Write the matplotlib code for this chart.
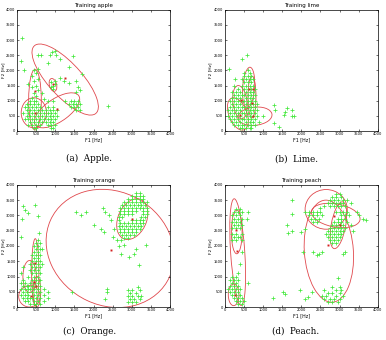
import matplotlib.pyplot as plt
from matplotlib.patches import Ellipse

# dense blobs are given as rows: (F2, [F1, F1, ...]); loose points as (F1, F2)
apple_rows = [
    (1000, [350, 450, 500, 800, 950, 1400, 1500, 1600]),
    (900, [250, 350, 450, 550, 1350, 1450, 1550, 1650]),
    (800, [200, 300, 400, 500, 600, 800, 950, 1400, 1500, 1600]),
    (700, [250, 350, 450, 550, 650, 750, 850, 950, 1050, 1550, 1650]),
    (600, [150, 300, 400, 500, 600, 700, 800, 900, 1000]),
    (500, [250, 350, 450, 550, 650, 750, 850, 950, 1050]),
    (400, [200, 300, 400, 500, 600, 700, 800, 900, 1000]),
    (300, [350, 450, 550, 650, 750, 850, 950]),
    (200, [300, 400, 500, 600, 800, 900, 1000]),
    (100, [450, 500, 900, 950]),
]
apple_loose = [(130, 3070), (115, 2320), (180, 2020), (290, 1550), (400, 1100), (500, 1150),
               (450, 1250), (550, 1350), (400, 1450), (500, 1500), (450, 1650), (550, 1700),
               (400, 1800), (500, 1900), (550, 2050), (450, 2000), (900, 1450), (950, 1500),
               (900, 1600), (980, 1650), (950, 1400), (1000, 1550), (550, 2520), (630, 2520),
               (850, 2520), (910, 2610), (980, 2630), (1010, 2520), (810, 2250), (1110, 2360),
               (1460, 2470), (1370, 2100), (1690, 1880), (1550, 1660), (1600, 1450), (1650, 1350),
               (1550, 1300), (1370, 1590), (1240, 1640), (1110, 1750), (2370, 820), (1250, 1000),
               (700, 1050), (650, 1250)]
apple_means = [(1242, 1752), (478, 1312), (937, 1554), (1041, 737), (460, 595)]
# (F1, F2, width, height, angle)
apple_ellipses = [(1258, 1697, 950, 2760, 34), (470, 1030, 330, 2000, 0),
                  (940, 1520, 190, 430, 10), (440, 600, 660, 990, 0),
                  (1046, 680, 1500, 700, 44)]

lime_rows = [
    (2000, [600]), (1900, [500, 650]), (1800, [500, 600, 700]),
    (1700, [450, 550, 650, 750]), (1600, [500, 600, 700]),
    (1500, [250, 450, 550, 650, 750]), (1400, [350, 500, 600, 700, 800]),
    (1300, [200, 300, 400, 550, 650, 750]), (1200, [250, 350, 450, 500, 600, 700, 800]),
    (1100, [200, 300, 400, 550, 650, 750]), (1000, [150, 250, 350, 450, 500, 600, 700, 800]),
    (900, [200, 300, 400, 550, 650, 750, 850]), (800, [150, 250, 350, 450, 500, 600, 700, 800]),
    (700, [100, 200, 300, 400, 550, 650, 750, 850]), (600, [150, 250, 350, 450, 500, 600, 700, 800]),
    (500, [100, 200, 300, 400, 550, 650, 750, 850]), (400, [150, 250, 350, 450, 500, 600, 700, 800]),
    (300, [200, 300, 400, 550, 650, 750]), (200, [250, 350, 450, 500, 600, 700, 800]),
    (100, [400, 450, 550, 650, 700]),
]
lime_loose = [(120, 2030), (450, 2390), (580, 2520), (260, 1700), (1280, 870), (1320, 700),
              (1300, 260), (1410, 120), (1540, 540), (1580, 630), (1640, 760), (1770, 700),
              (1760, 490), (1800, 490), (1000, 500), (900, 300)]
lime_means = [(626, 1380), (739, 1388), (426, 1013), (722, 925), (739, 485), (391, 518)]
lime_ellipses = [(626, 1430, 310, 1350, -3), (400, 950, 370, 1100, 5),
                 (713, 1120, 210, 1380, 0), (345, 560, 480, 1100, 15),
                 (790, 485, 900, 600, 10)]

orange_rows = [
    (2200, [550]), (2100, [500, 600]), (2000, [450, 550]), (1900, [500, 600, 650]),
    (1800, [450, 550]), (1700, [400, 500, 600]), (1600, [450, 550]),
    (1500, [400, 500, 600]), (1400, [350, 450, 550, 650]), (1300, [150, 400, 500, 600]),
    (1200, [350, 450, 550]), (1100, [100, 400, 500, 600]), (1000, [300, 450, 550]),
    (900, [150, 400, 500, 600]), (800, [100, 200, 350, 450, 550]),
    (700, [150, 250, 300, 400, 500, 600]), (600, [100, 200, 300, 350, 450, 550, 700]),
    (500, [150, 250, 400, 500, 600, 800]), (400, [100, 200, 300, 450, 550, 700]),
    (300, [150, 250, 350, 400, 500, 600, 800]), (200, [200, 300, 450, 550, 700]),
    (100, [350, 450, 500, 600]),
    (3750, [3100, 3200]), (3650, [3000, 3100, 3200, 3300]),
    (3550, [2900, 3000, 3100, 3200, 3300]),
    (3450, [2800, 2900, 3000, 3100, 3200, 3300, 3400]),
    (3350, [2750, 2850, 2950, 3050, 3150, 3250, 3350]),
    (3250, [2700, 2800, 2900, 3000, 3100, 3200, 3300, 3400]),
    (3150, [2700, 2800, 2900, 3000, 3100, 3300, 3400]),
    (3050, [2700, 2800, 2900, 3000, 3300, 3400]),
    (2950, [2650, 2750, 3250, 3350]),
    (2850, [2650, 3000, 3100, 3200, 3300]),
    (2750, [2700, 2800, 2900, 3000, 3100, 3200, 3300]),
    (2650, [2650, 2750, 2850, 2950, 3050, 3150, 3250]),
    (2550, [2700, 2800, 2900, 3000, 3100, 3200]),
    (2450, [2700, 2800, 2900, 3000, 3100]),
    (2350, [2750, 2850, 2950, 3050]), (2250, [2800, 2900]),
    (650, [3150]), (550, [2900, 3000, 3200]), (450, [2950, 3100]),
    (350, [2900, 3000, 3150, 3250]), (250, [2950, 3050, 3200]), (150, [2900, 3000, 3100]),
]
orange_loose = [(156, 3320), (200, 3180), (286, 3070), (130, 2900), (114, 2300), (546, 2990),
                (565, 2410), (480, 3350), (1546, 3100), (1676, 3010), (1806, 3120), (2022, 2700),
                (2196, 2570), (2282, 2460), (2238, 3230), (2300, 3100), (2400, 3000), (2450, 2850),
                (2543, 2570), (2498, 2300), (2717, 2190), (2803, 2020), (2717, 1750), (2933, 1640),
                (3063, 1750), (3367, 2020), (3193, 1370), (3100, 1900), (2600, 2200), (1431, 485),
                (2352, 594), (2352, 484), (2300, 250), (2650, 2000)]
orange_means = [(477, 1451), (434, 813), (503, 703), (356, 352), (2455, 1879), (3002, 2890)]
orange_ellipses = [(2430, 1920, 3250, 3950, 20), (3010, 2880, 760, 1370, -15),
                   (477, 1140, 190, 2200, 0), (330, 1000, 350, 1050, 0),
                   (325, 350, 560, 700, 0), (520, 500, 200, 1000, 0)]

peach_rows = [
    (3200, [300, 400]), (3100, [250, 350, 450]), (3000, [200, 300, 400]),
    (2900, [250, 350, 450]), (2800, [200, 300, 400]), (2700, [250, 350, 450]),
    (2600, [200, 300, 400]), (2400, [200, 300, 450]), (2300, [250, 350, 400]),
    (2200, [200, 300, 450]),
    (1000, [200, 300]), (900, [150, 250, 350]), (800, [200, 300]), (700, [150, 250, 350]),
    (600, [100, 200, 300, 400]), (500, [150, 250, 350]), (400, [200, 300, 400]),
    (300, [250, 350, 450]), (200, [300, 400, 500]), (100, [350, 450]),
    (3700, [2900, 3000]), (3600, [2800, 2900, 3050]), (3500, [2750, 2850, 2950, 3100]),
    (3400, [2700, 2800, 2900, 3000, 3100]), (3300, [2750, 2850, 2950, 3050, 3150]),
    (3100, [2100, 2200, 2300, 2400, 2500, 2900, 3000, 3100, 3200]),
    (3000, [2200, 2300, 2400, 2550, 3050, 3150, 3250]),
    (2900, [2250, 2350, 2450, 2950, 3050, 3150]),
    (2800, [2300, 2400, 2850, 2950, 3050, 3200]),
    (2700, [2800, 2900, 3000, 3100]), (2600, [2750, 2850, 2950, 3050, 3150]),
    (2500, [2700, 2800, 2900, 3000, 3100]), (2400, [2650, 2750, 2850, 2950, 3050]),
    (2300, [2700, 2800, 2900, 3000]), (2200, [2750, 2850, 2950]), (2100, [2800, 2900]),
    (650, [2800, 3000]), (550, [2600, 2900, 3050]), (450, [2700, 2800, 3000]),
    (350, [2550, 2650, 2900, 3100]), (250, [2600, 2750, 2850, 3000]), (150, [2700, 2800, 2950]),
]
peach_loose = [(1750, 3510), (1750, 3050), (1620, 2680), (1660, 2410), (1750, 2490), (1530, 485),
               (1570, 440), (1965, 560), (2184, 320), (2096, 264), (2271, 485), (2053, 1800),
               (2300, 1800), (2400, 1700), (2450, 1750), (2550, 1800), (2950, 950), (3600, 2900),
               (3700, 2850), (3450, 3100), (3500, 3000), (3300, 2700), (3350, 2500), (600, 3120),
               (580, 2900), (450, 1800), (400, 1400), (350, 1100), (600, 800), (1250, 300),
               (2600, 3300), (2500, 3250), (3200, 3500), (3300, 3400), (3150, 1800), (3100, 1750),
               (2100, 2550), (2000, 2450)]
peach_means = [(306, 2519), (333, 1836), (262, 396), (2708, 2024), (2865, 2990), (3012, 2704)]
peach_ellipses = [(340, 1800, 370, 3500, 3), (315, 2460, 280, 1430, 0),
                  (235, 400, 280, 710, 0), (2720, 1830, 1280, 3350, 3),
                  (2650, 3200, 1100, 1300, 0), (2900, 3000, 1300, 750, -15),
                  (2970, 2680, 380, 1550, -8)]

titles = ['Training apple', 'Training lime', 'Training orange', 'Training peach']
captions = ['(a)  Apple.', '(b)  Lime.', '(c)  Orange.', '(d)  Peach.']
ticks = [0, 500, 1000, 1500, 2000, 2500, 3000, 3500, 4000]

panels = [
    (apple_rows, apple_loose, apple_means, apple_ellipses),
    (lime_rows, lime_loose, lime_means, lime_ellipses),
    (orange_rows, orange_loose, orange_means, orange_ellipses),
    (peach_rows, peach_loose, peach_means, peach_ellipses),
]
positions = [[0.044, 0.615, 0.397, 0.356], [0.582, 0.615, 0.397, 0.356],
             [0.044, 0.097, 0.397, 0.359], [0.582, 0.097, 0.397, 0.359]]
caption_xy = [(0.231, 0.52), (0.767, 0.52), (0.231, 0.012), (0.767, 0.012)]

fig = plt.figure(figsize=(3.86, 3.40), dpi=100)

for i, (rows, loose, means, ellipses) in enumerate(panels):
    ax = fig.add_axes(positions[i])
    f1 = [x for y, xs in rows for x in xs] + [p[0] for p in loose]
    f2 = [y for y, xs in rows for x in xs] + [p[1] for p in loose]
    ax.plot(f1, f2, '+', color='#44e83c', ms=3.2, mew=0.55)
    for cx, cy, w, h, ang in ellipses:
        ax.add_patch(Ellipse((cx, cy), w, h, angle=ang, fill=False,
                             ec='#e0474c', lw=0.6))
    ax.plot([m[0] for m in means], [m[1] for m in means], 's',
            color='#d42020', ms=1.4, mew=0)

    ax.set_xlim(0, 4000)
    ax.set_ylim(0, 4000)
    ax.set_xticks(ticks)
    ax.set_yticks(ticks)
    ax.tick_params(direction='in', length=1.5, width=0.4, labelsize=2.6,
                   pad=1.0, top=True, right=True)
    for s in ax.spines.values():
        s.set_linewidth(0.5)
    ax.set_title(titles[i], fontsize=4.0, pad=2)
    ax.set_xlabel('F1 [Hz]', fontsize=3.4, labelpad=1)
    ax.set_ylabel('F2 [Hz]', fontsize=3.2)
    ax.yaxis.set_label_coords(-0.078, 0.5)

    fig.text(caption_xy[i][0], caption_xy[i][1], captions[i], ha='center',
             va='bottom', family='DejaVu Serif', fontsize=6.3)

fig.savefig('out.png', dpi=100)
